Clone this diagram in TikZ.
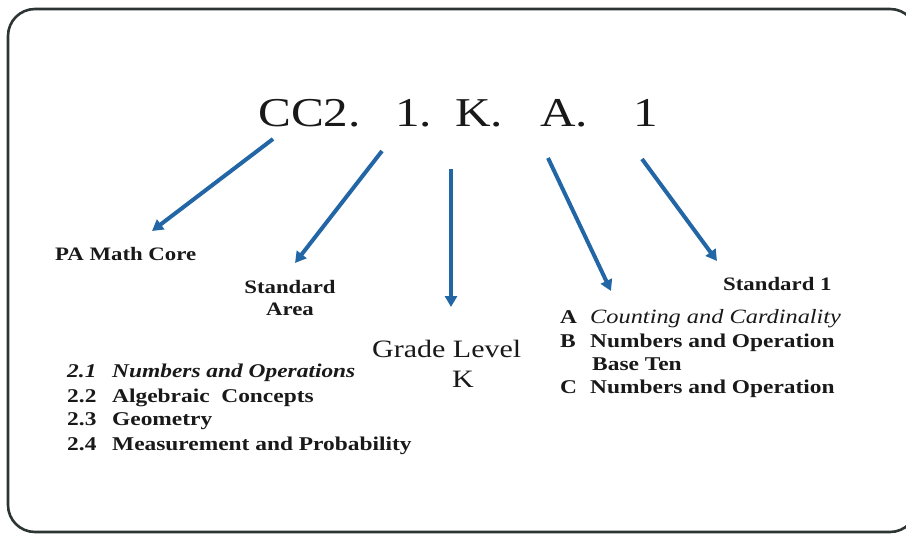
\documentclass[tikz,border=0pt]{standalone}
\usepackage{fontspec}
\setmainfont{Liberation Serif}[FakeStretch=1.2]
\usetikzlibrary{arrows.meta}
\definecolor{arrowblue}{RGB}{35,102,165}
\definecolor{framegray}{RGB}{45,52,52}
\definecolor{inkblack}{RGB}{25,25,25}

\begin{document}
\begin{tikzpicture}[x=1pt,y=-1pt,
  txt/.style={anchor=base west,inner sep=0pt,text=inkblack},
  head/.style={txt,font=\fontsize{41}{41}\selectfont},
  lbl/.style={txt,font=\fontsize{19}{19}\selectfont\bfseries},
  item/.style={txt,font=\fontsize{19.5}{19.5}\selectfont\bfseries},
  itemit/.style={txt,font=\fontsize{19.5}{19.5}\selectfont\bfseries\itshape},
  grade/.style={txt,font=\fontsize{25}{25}\selectfont},
  pointer/.style={draw=arrowblue,line width=4pt,
    -{Triangle[length=11pt,width=12pt]}},
]
\useasboundingbox (0,0) rectangle (906,535);
\begin{scope}
\clip (0,0) rectangle (906,535);
\draw[framegray,line width=2.6pt,rounded corners=27pt] (8,9) rectangle (917,532);
\end{scope}

% code string
\node[head] (cc)  at (258,127) {CC2.};
\node[head] (one) at (395,127) {1.};
\node[head] (kk)  at (455,127) {K.};
\node[head] (aa)  at (540,127) {A.};
\node[head] (std) at (633,127) {1};

% labels
\node[lbl] (core) at (55,260) {PA Math Core};
\node[lbl,anchor=base] (area1) at (290,293) {Standard};
\node[lbl,anchor=base] (area2) at (290,315) {Area};
\node[grade] (gl) at (372,357) {Grade Level};
\node[grade] (gk) at (452,387) {K};
\node[lbl] (s1) at (723,290) {Standard 1};

% standard areas
\node[itemit] (n21) at (67,377) {2.1};
\node[itemit] (t21) at (112,377) {Numbers and Operations};
\node[item] (n22) at (67,402) {2.2};
\node[item] (t22) at (112,402) {Algebraic~ Concepts};
\node[item] (n23) at (67,425) {2.3};
\node[item] (t23) at (112,425) {Geometry};
\node[item] (n24) at (67,450) {2.4};
\node[item] (t24) at (112,450) {Measurement and Probability};

% domains
\node[item] (la) at (560,323) {A};
\node[txt,font=\fontsize{20.3}{20.3}\selectfont\itshape] (ta) at (590,323) {Counting and Cardinality};
\node[item] (lb) at (560,347) {B};
\node[item] (tb) at (590,347) {Numbers and Operation};
\node[item] (tb2) at (592,370) {Base Ten};
\node[item] (lc) at (560,393) {C};
\node[item] (tc) at (590,393) {Numbers and Operation};

% arrows
\coordinate (p1s) at (273,139); \coordinate (p1e) at (152,231);
\coordinate (p2s) at (382,151); \coordinate (p2e) at (295,263);
\coordinate (p3s) at (451,169); \coordinate (p3e) at (451,307);
\coordinate (p4s) at (548,158); \coordinate (p4e) at (611,291);
\coordinate (p5s) at (642,159); \coordinate (p5e) at (717,261);
\draw[pointer] (p1s) -- (p1e);
\draw[pointer] (p2s) -- (p2e);
\draw[pointer] (p3s) -- (p3e);
\draw[pointer] (p4s) -- (p4e);
\draw[pointer] (p5s) -- (p5e);
\end{tikzpicture}
\end{document}
